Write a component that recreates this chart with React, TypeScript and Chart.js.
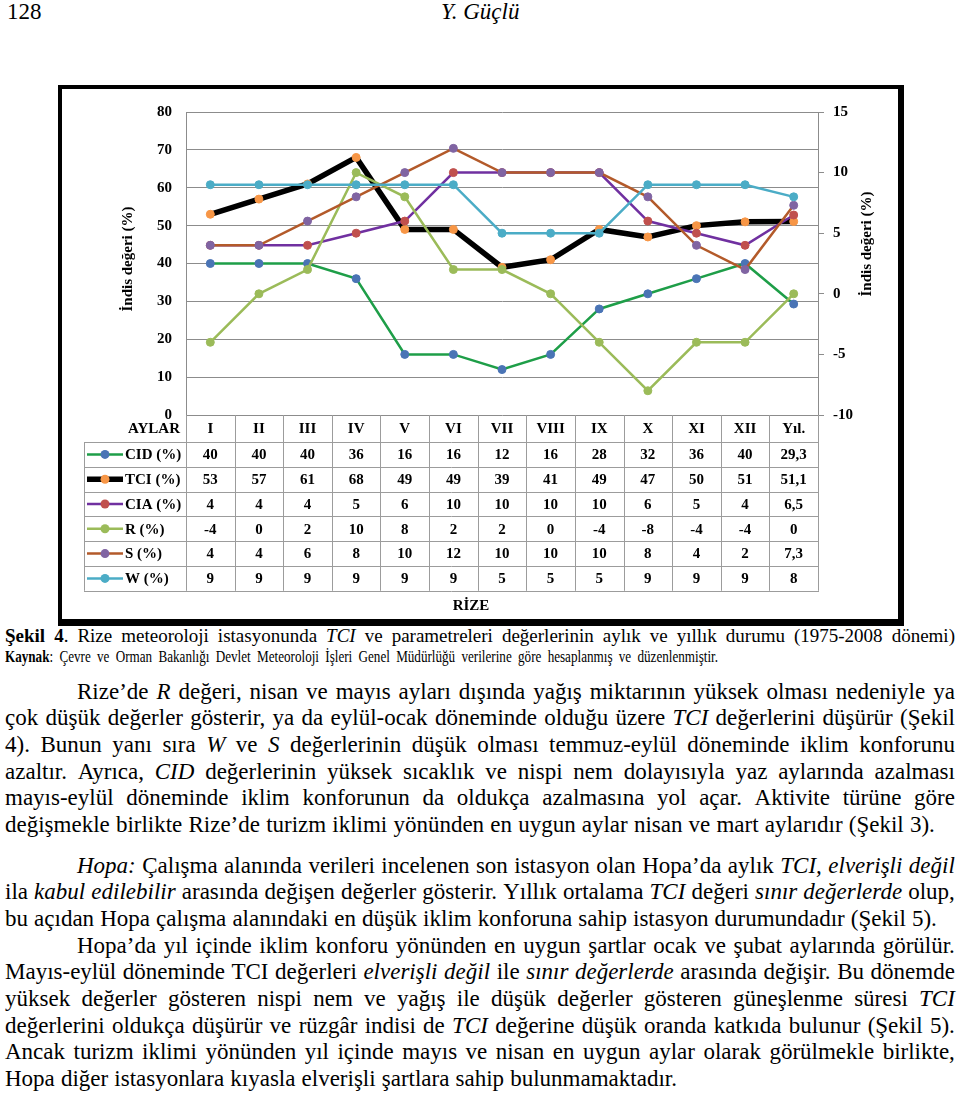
import React, { useEffect, useRef } from "react";
import { Chart, registerables } from "chart.js";
Chart.register(...registerables);

const SERIF = '"Liberation Serif", "Times New Roman", serif';

// ---------- data ----------
const categories = ["I", "II", "III", "IV", "V", "VI", "VII", "VIII", "IX", "X", "XI", "XII", "Yıl."];
const cidValues = [40, 40, 40, 36, 16, 16, 12, 16, 28, 32, 36, 40, 29.3];
const tciValues = [53, 57, 61, 68, 49, 49, 39, 41, 49, 47, 50, 51, 51.1];
const ciaValues = [4, 4, 4, 5, 6, 10, 10, 10, 10, 6, 5, 4, 6.5];
const rValues = [-4, 0, 2, 10, 8, 2, 2, 0, -4, -8, -4, -4, 0];
const sValues = [4, 4, 6, 8, 10, 12, 10, 10, 10, 8, 4, 2, 7.3];
const wValues = [9, 9, 9, 9, 9, 9, 5, 5, 5, 9, 9, 9, 8];
const seriesLabels = ["CID (%)", "TCI (%)", "CIA (%)", "R (%)", "S (%)", "W (%)"];
const seriesValues = [cidValues, tciValues, ciaValues, rValues, sValues, wValues];
const leftTicks = [0, 10, 20, 30, 40, 50, 60, 70, 80];
const rightTicks = [-10, -5, 0, 5, 10, 15];
const axisTitle = "İndis değeri (%)";
const headerLabel = "AYLAR";
const stationLabel = "RİZE";

// ---------- styles ----------
const lineColors = ["#1e9e48", "#000000", "#7030a0", "#9bbb59", "#b35a2a", "#4bacc6"];
const markerColors = ["#4a74b5", "#f79646", "#c0504d", "#9bbb59", "#8064a2", "#4bacc6"];
const lineWidths = [2.5, 5.5, 2.5, 2.5, 2.5, 2.5];
const axisOf = ["y", "y", "y2", "y2", "y2", "y2"];
const drawOrder = [6, 5, 4, 3, 2, 1];
const GRID = "#8c8c8c";
const TABLE_LINE = "#9c9c9c";

const fmt = (v: number) => String(v).replace(".", ",");

const tablePlugin = {
  id: "dataTable",
  afterDraw(chart: any) {
    const ctx = chart.ctx as CanvasRenderingContext2D;
    const x = chart.scales.x;
    const area = chart.chartArea;
    const n = categories.length;
    const step = x.getPixelForValue(1) - x.getPixelForValue(0);
    const bounds: number[] = [];
    for (let i = 0; i <= n; i++) bounds.push(x.getPixelForValue(0) - step / 2 + i * step);
    const top = area.bottom;
    const headerBottom = top + 27;
    const rowH = 24.8;
    const bottom = headerBottom + rowH * seriesLabels.length;
    const tableLeft = 22;
    const seg = (x1: number, y1: number, x2: number, y2: number) => {
      ctx.beginPath();
      ctx.moveTo(x1, y1);
      ctx.lineTo(x2, y2);
      ctx.stroke();
    };
    ctx.save();
    ctx.strokeStyle = TABLE_LINE;
    ctx.lineWidth = 1;
    bounds.forEach((b) => seg(Math.round(b) + 0.5, top, Math.round(b) + 0.5, bottom));
    seg(tableLeft + 0.5, headerBottom, tableLeft + 0.5, bottom);
    for (let k = 0; k <= seriesLabels.length; k++) {
      const y = Math.round(headerBottom + k * rowH) + 0.5;
      seg(tableLeft, y, Math.round(bounds[n]) + 1, y);
    }
    ctx.fillStyle = "#000";
    ctx.font = `bold 15px ${SERIF}`;
    ctx.textBaseline = "middle";
    ctx.textAlign = "center";
    categories.forEach((c, i) => ctx.fillText(c, x.getPixelForValue(i), (top + headerBottom) / 2 + 1));
    ctx.textAlign = "right";
    ctx.fillText(headerLabel, 118, (top + headerBottom) / 2 + 1);

    seriesLabels.forEach((lab, k) => {
      const cy = headerBottom + rowH * (k + 0.5);
      ctx.strokeStyle = lineColors[k];
      ctx.lineWidth = lineWidths[k];
      seg(25, cy, 61, cy);
      ctx.fillStyle = markerColors[k];
      ctx.beginPath();
      ctx.arc(43, cy, 4.5, 0, Math.PI * 2);
      ctx.fill();
      ctx.fillStyle = "#000";
      ctx.textAlign = "left";
      ctx.fillText(lab, 63, cy + 1);
      ctx.textAlign = "center";
      seriesValues[k].forEach((v, i) => ctx.fillText(fmt(v), x.getPixelForValue(i), cy + 1));
    });
    ctx.textAlign = "center";
    ctx.fillText(stationLabel, 409, bottom + 15);

    ctx.font = `bold 15px ${SERIF}`;
    [[66, 170], [805, 155]].forEach(([tx, ty]) => {
      ctx.save();
      ctx.translate(tx, ty);
      ctx.rotate(-Math.PI / 2);
      ctx.textAlign = "center";
      ctx.textBaseline = "middle";
      ctx.fillText(axisTitle, 0, 0);
      ctx.restore();
    });
    ctx.restore();
  },
};

// ---------- page text ----------
type Seg = { t: string; i: boolean; b: boolean };
function parseWords(s: string): Seg[][] {
  const words: Seg[][] = [];
  let cur: Seg[] = [];
  let it = false;
  let bd = false;
  let buf = "";
  const flush = () => {
    if (buf) {
      cur.push({ t: buf, i: it, b: bd });
      buf = "";
    }
  };
  for (const ch of s) {
    if (ch === "_") {
      flush();
      it = !it;
    } else if (ch === "*") {
      flush();
      bd = !bd;
    } else if (ch === " ") {
      flush();
      if (cur.length) words.push(cur);
      cur = [];
    } else buf += ch;
  }
  flush();
  if (cur.length) words.push(cur);
  return words;
}

type Line = { t: string; x: number; w: number; base: number; fs: number; sx?: number };

const BODY_FS = 23;
const LSTEP = 26.65;
const bodyLines: [string, number, number][] = [
  ["Rize’de _R_ değeri, nisan ve mayıs ayları dışında yağış miktarının yüksek olması nedeniyle ya", 77, 878],
  ["çok düşük değerler gösterir, ya da eylül-ocak döneminde olduğu üzere _TCI_ değerlerini düşürür (Şekil", 5, 950],
  ["4). Bunun yanı sıra _W_ ve _S_ değerlerinin düşük olması temmuz-eylül döneminde iklim konforunu", 5, 950],
  ["azaltır. Ayrıca, _CID_ değerlerinin yüksek sıcaklık ve nispi nem dolayısıyla yaz aylarında azalması", 5, 950],
  ["mayıs-eylül döneminde iklim konforunun da oldukça azalmasına yol açar. Aktivite türüne göre", 5, 950],
  ["değişmekle birlikte Rize’de turizm iklimi yönünden en uygun aylar nisan ve mart aylarıdır (Şekil 3).", 5, 930],
  ["_Hopa:_ Çalışma alanında verileri incelenen son istasyon olan Hopa’da aylık _TCI, elverişli değil_", 77, 878],
  ["ila _kabul edilebilir_ arasında değişen değerler gösterir. Yıllık ortalama _TCI_ değeri _sınır değerlerde_ olup,", 5, 950],
  ["bu açıdan Hopa çalışma alanındaki en düşük iklim konforuna sahip istasyon durumundadır (Şekil 5).", 5, 932],
  ["Hopa’da yıl içinde iklim konforu yönünden en uygun şartlar ocak ve şubat aylarında görülür.", 77, 878],
  ["Mayıs-eylül döneminde TCI değerleri _elverişli değil_ ile _sınır değerlerde_ arasında değişir. Bu dönemde", 5, 950],
  ["yüksek değerler gösteren nispi nem ve yağış ile düşük değerler gösteren güneşlenme süresi _TCI_", 5, 950],
  ["değerlerini oldukça düşürür ve rüzgâr indisi de _TCI_ değerine düşük oranda katkıda bulunur (Şekil 5).", 5, 950],
  ["Ancak turizm iklimi yönünden yıl içinde mayıs ve nisan en uygun aylar olarak görülmekle birlikte,", 5, 950],
  ["Hopa diğer istasyonlara kıyasla elverişli şartlara sahip bulunmamaktadır.", 5, 672],
];
const baseOf = (i: number) => (i < 6 ? 699 + i * LSTEP : 873 + (i - 6) * LSTEP);

const textLines: Line[] = [
  { t: "*Şekil 4*. Rize meteoroloji istasyonunda _TCI_ ve parametreleri değerlerinin aylık ve yıllık durumu (1975-2008 dönemi)", x: 5, w: 950, base: 642, fs: 19 },
  { t: "*Kaynak*: Çevre ve Orman Bakanlığı Devlet Meteoroloji İşleri Genel Müdürlüğü verilerine göre hesaplanmış ve düzenlenmiştir.", x: 5, w: 713, base: 662, fs: 16, sx: 0.82 },
  ...bodyLines.map(([t, x, w], i) => ({ t, x, w, base: baseOf(i), fs: BODY_FS })),
];

function TextLine({ line }: { line: Line }) {
  const sx = line.sx ?? 1;
  const words = parseWords(line.t);
  return (
    <div
      style={{
        position: "absolute",
        left: line.x,
        top: line.base - 0.8375 * line.fs,
        width: line.w / sx,
        display: "flex",
        justifyContent: "space-between",
        alignItems: "baseline",
        fontSize: line.fs,
        lineHeight: 1,
        whiteSpace: "nowrap",
        transform: sx !== 1 ? `scaleX(${sx})` : undefined,
        transformOrigin: "left top",
      }}
    >
      {words.map((w, wi) => (
        <span key={wi}>
          {w.map((s, si) => (
            <span key={si} style={{ fontStyle: s.i ? "italic" : "normal", fontWeight: s.b ? "bold" : "normal" }}>
              {s.t}
            </span>
          ))}
        </span>
      ))}
    </div>
  );
}

export default function App() {
  const ref = useRef<HTMLCanvasElement>(null);
  useEffect(() => {
    const tickFont = { family: SERIF, weight: "bold" as const, size: 15 };
    const chart = new Chart(ref.current!, {
      type: "line",
      data: {
        labels: categories,
        datasets: seriesValues.map((d, i) => ({
          label: seriesLabels[i],
          data: d,
          yAxisID: axisOf[i],
          borderColor: lineColors[i],
          borderWidth: lineWidths[i],
          backgroundColor: markerColors[i],
          pointBackgroundColor: markerColors[i],
          pointBorderColor: markerColors[i],
          pointBorderWidth: 1,
          pointRadius: 4,
          tension: 0,
          fill: false,
          order: drawOrder[i],
        })),
      },
      options: {
        responsive: false,
        animation: false,
        events: [],
        layout: { padding: { left: 0, right: 0, top: 16, bottom: 203 } },
        plugins: { legend: { display: false }, tooltip: { enabled: false }, title: { display: false } },
        scales: {
          x: { type: "category", display: false, offset: true },
          y: {
            position: "left",
            min: 0,
            max: 80,
            afterBuildTicks: (s: any) => {
              s.ticks = leftTicks.map((v) => ({ value: v }));
            },
            afterFit: (s: any) => {
              s.width = 124;
            },
            grid: { color: GRID, drawTicks: false, lineWidth: 1 },
            border: { color: GRID },
            ticks: { padding: 14, color: "#000", font: tickFont },
          },
          y2: {
            position: "right",
            min: -10,
            max: 15,
            afterBuildTicks: (s: any) => {
              s.ticks = rightTicks.map((v) => ({ value: v }));
            },
            afterFit: (s: any) => {
              s.width = 80;
            },
            grid: { drawOnChartArea: false, drawTicks: true, tickLength: 6, color: GRID },
            border: { color: GRID },
            ticks: { padding: 9, color: "#000", font: tickFont },
          },
        },
      },
      plugins: [tablePlugin],
    } as any);
    return () => chart.destroy();
  }, []);

  return (
    <div
      style={{
        position: "absolute",
        left: 0,
        top: 0,
        width: 960,
        height: 1093,
        overflow: "hidden",
        background: "#fff",
        color: "#000",
        fontFamily: SERIF,
      }}
    >
      <div style={{ position: "absolute", left: 7, top: 19 - 0.8375 * 23, fontSize: 23, lineHeight: 1 }}>128</div>
      <div style={{ position: "absolute", left: 441, top: 19 - 0.8375 * 23, fontSize: 23, lineHeight: 1, fontStyle: "italic" }}>
        Y. Güçlü
      </div>
      <div
        style={{
          position: "absolute",
          left: 58,
          top: 85,
          width: 846,
          height: 541,
          boxSizing: "border-box",
          borderStyle: "solid",
          borderColor: "#000",
          borderWidth: "4px 6px 7px 4px",
        }}
      />
      <canvas ref={ref} width={836} height={529} style={{ position: "absolute", left: 62, top: 89, width: 836, height: 529 }} />
      {textLines.map((l, i) => (
        <TextLine key={i} line={l} />
      ))}
    </div>
  );
}
